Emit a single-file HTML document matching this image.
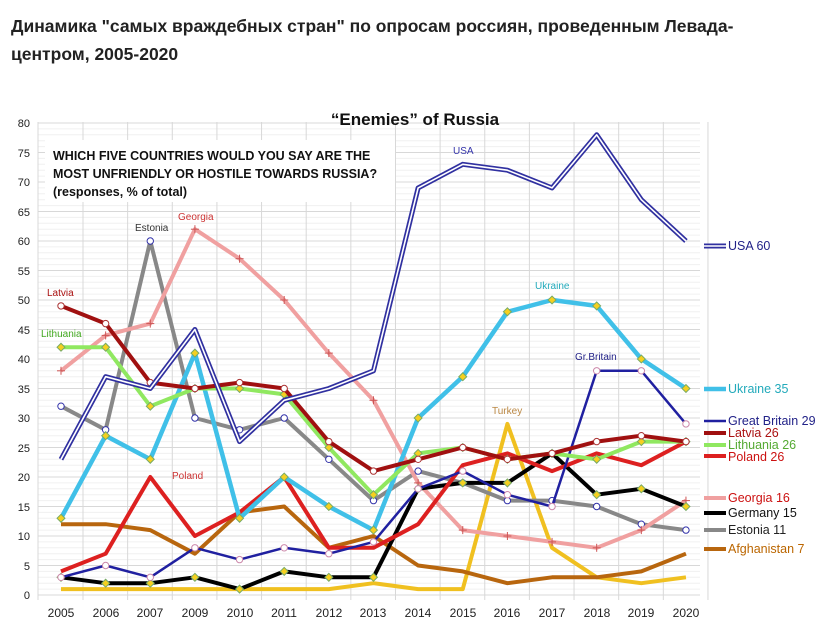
<!DOCTYPE html>
<html><head><meta charset="utf-8"><style>
body{margin:0;background:#fff;width:822px;height:634px;overflow:hidden;font-family:"Liberation Sans","DejaVu Sans",sans-serif}
.h{position:absolute;left:11px;top:12px;font-size:17.5px;font-weight:bold;color:#222;line-height:28px;width:800px}
svg{position:absolute;left:0;top:0}
</style></head><body>
<div class="h">Динамика "самых враждебных стран" по опросам россиян, проведенным Левада-центром, 2005-2020</div>
<svg id="s" width="822" height="634" font-family="Liberation Sans, sans-serif">
<rect x="12" y="100" width="800" height="530" fill="#fff"/>
<g id="grid"></g>
<g font-size="11" fill="#222" text-anchor="end">
<text x="30" y="127">80</text><text x="30" y="157">75</text><text x="30" y="186">70</text><text x="30" y="216">65</text><text x="30" y="245">60</text><text x="30" y="275">55</text><text x="30" y="304">50</text><text x="30" y="334">45</text><text x="30" y="363">40</text><text x="30" y="393">35</text><text x="30" y="422">30</text><text x="30" y="452">25</text><text x="30" y="481">20</text><text x="30" y="511">15</text><text x="30" y="540">10</text><text x="30" y="570">5</text><text x="30" y="599">0</text>
</g>
<g font-size="12" fill="#222" text-anchor="middle">
<text x="61" y="617">2005</text><text x="106" y="617">2006</text><text x="150" y="617">2007</text><text x="195" y="617">2009</text><text x="240" y="617">2010</text><text x="284" y="617">2011</text><text x="329" y="617">2012</text><text x="373" y="617">2013</text><text x="418" y="617">2014</text><text x="463" y="617">2015</text><text x="507" y="617">2016</text><text x="552" y="617">2017</text><text x="597" y="617">2018</text><text x="641" y="617">2019</text><text x="686" y="617">2020</text>
</g>
<rect x="45" y="140" width="350" height="62" fill="#fff"/>
<text x="415" y="125" font-size="17" font-weight="bold" text-anchor="middle" fill="#111">“Enemies” of Russia</text>
<g font-size="12.5" font-weight="bold" fill="#111">
<text x="53" y="160">WHICH FIVE COUNTRIES WOULD YOU SAY ARE THE</text>
<text x="53" y="178">MOST UNFRIENDLY OR HOSTILE TOWARDS RUSSIA?</text>
<text x="53" y="196">(responses, % of total)</text>
</g>
<g id="lines"></g>
<g font-size="10">
<text x="47" y="296" fill="#a11">Latvia</text>
<text x="41" y="337" fill="#4a2">Lithuania</text>
<text x="135" y="231" fill="#333">Estonia</text>
<text x="178" y="220" fill="#c33">Georgia</text>
<text x="172" y="479" fill="#c33">Poland</text>
<text x="453" y="154" fill="#33a">USA</text>
<text x="535" y="289" fill="#2ab">Ukraine</text>
<text x="575" y="360" fill="#228">Gr.Britain</text>
<text x="492" y="414" fill="#b84">Turkey</text>
</g>
<g font-size="12.5">
<text x="728" y="250" fill="#228">USA 60</text>
<text x="728" y="393" fill="#2ab">Ukraine 35</text>
<text x="728" y="425" fill="#228">Great Britain 29</text>
<text x="728" y="437" fill="#a11">Latvia 26</text>
<text x="728" y="449" fill="#5a3">Lithuania 26</text>
<text x="728" y="461" fill="#c11">Poland 26</text>
<text x="728" y="502" fill="#c11">Georgia 16</text>
<text x="728" y="517" fill="#111">Germany 15</text>
<text x="728" y="534" fill="#222">Estonia 11</text>
<text x="728" y="553" fill="#b60">Afghanistan 7</text>
</g>
</svg>
<script>
var NS="http://www.w3.org/2000/svg";
function el(p,t,a){var e=document.createElementNS(NS,t);for(var k in a)e.setAttribute(k,a[k]);document.getElementById(p).appendChild(e);return e;}
var X=function(i){return 61+i*44.64},Y=function(v){return 595-v*5.9};
for(var v=0;v<=80;v++){el('grid','line',{x1:38,x2:700,y1:Y(v),y2:Y(v),stroke:v%5?'#f0f0f0':'#d8d8d8','stroke-width':1});}
for(var i=0;i<15;i++){el('grid','line',{x1:X(i)+22,x2:X(i)+22,y1:122,y2:600,stroke:'#d8d8d8'});}
el('grid','line',{x1:38,x2:38,y1:122,y2:600,stroke:'#d8d8d8'});
var S=[
["#f0c020",4,[1,1,1,1,1,1,1,2,1,1,29,8,3,2,3],0,null],
["#b8660e",4,[12,12,11,7,14,15,8,10,5,4,2,3,3,4,7],0,null],
["#888",4,[32,28,60,30,28,30,23,16,21,19,16,16,15,12,11],1,null,"#33a"],
["#f0a0a0",4,[38,44,46,62,57,50,41,33,19,11,10,9,8,11,16],2,null],
["#000",4,[3,2,2,3,1,4,3,3,18,19,19,24,17,18,15],3,null],
["#dd2020",4,[4,7,20,10,14,20,8,8,12,22,24,21,24,22,26],0,null],
["#2020a0",2.5,[3,5,3,8,6,8,7,9,18,21,17,15,38,38,29],1,null,"#c8a"],
["#40c0e8",4.5,[13,27,23,41,13,20,15,11,30,37,48,50,49,40,35],3,null],
["#90e860",4,[42,42,32,35,35,34,25,17,24,25,23,24,23,26,26],3,null],
["#a01010",4,[49,46,36,35,36,35,26,21,23,25,23,24,26,27,26],1,null,"#a33"],
["#3030a0",5,[23,37,35,45,26,33,35,38,69,73,72,69,78,67,60],4,null]
];
var leg={"#40c0e8":389,"#2020a0":421,"#a01010":433,"#90e860":445,"#dd2020":456,"#f0a0a0":498,"#000":513,"#888":530,"#b8660e":549,"#3030a0":246};
S.forEach(function(s){
 var pts=s[2].map(function(v,i){return X(i)+','+Y(v)}).join(' ');
 el('lines','polyline',{points:pts,fill:'none',stroke:s[0],'stroke-width':s[1],'stroke-linejoin':'round'});
 if(s[3]==4)el('lines','polyline',{points:pts,fill:'none',stroke:'#fff','stroke-width':1.6,'stroke-linejoin':'round'});
 if(leg[s[0]]){var y=leg[s[0]];el('lines','line',{x1:704,x2:726,y1:y,y2:y,stroke:s[0],'stroke-width':s[1]});
  if(s[3]==4)el('lines','line',{x1:704,x2:726,y1:y,y2:y,stroke:'#fff','stroke-width':1.6});}
 s[2].forEach(function(v,i){var x=X(i),y=Y(v);
  if(s[3]==1)el('lines','circle',{cx:x,cy:y,r:3.2,fill:'#fff',stroke:s[5]||s[0],'stroke-width':1});
  if(s[3]==3)el('lines','rect',{x:x-2.8,y:y-2.8,width:5.6,height:5.6,fill:'#f5d020',stroke:'#7a6',transform:'rotate(45 '+x+' '+y+')'});
  if(s[3]==2){el('lines','line',{x1:x-4,x2:x+4,y1:y,y2:y,stroke:'#c55'});el('lines','line',{x1:x,x2:x,y1:y-4,y2:y+4,stroke:'#c55'});}
 });
});
</script>
</body></html>
